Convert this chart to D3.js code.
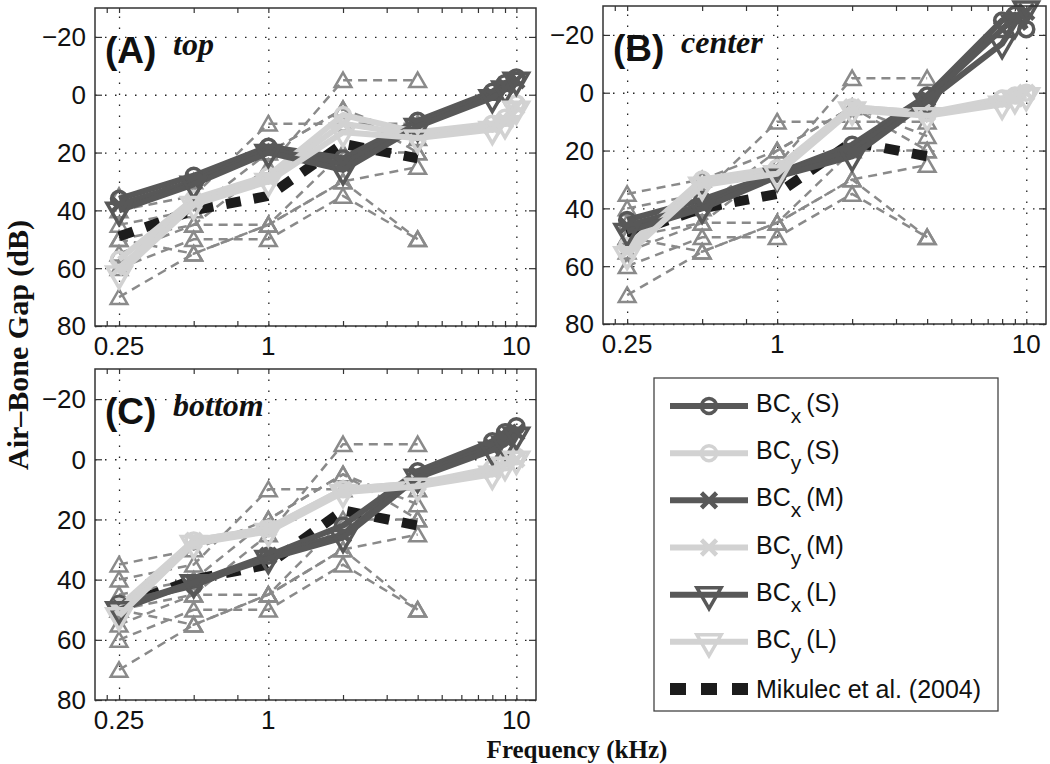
<!DOCTYPE html>
<html>
<head>
<meta charset="utf-8">
<script src="https://cdn.jsdelivr.net/npm/d3@7"></script>
<style>
  body { margin: 0; background: #fff; }
  svg { display: block; }
  .tick-label { font-family: "Liberation Sans", Arial, sans-serif; font-size: 26px; fill: #111; }
</style>
</head>
<body>
<div id="chart"></div>
<script>
// frequencies (kHz)
const FREQ = [0.25, 0.5, 1, 2, 4, 8, 9, 10];
const MIK_FREQ = [0.25, 0.5, 1, 2, 4];

// Mikulec et al. (2004) individual ears, same in every panel
const mikEars = [
  [70, 55, 45, 30, 25],
  [60, 50, 50, 35, 50],
  [55, 45, 45, 30, 50],
  [50, 45, 25, -5, -5],
  [45, 40, 20, 5, 20],
  [40, 35, 10, 10, 10],
  [35, 30, 20, 5, 15],
  [50, 55, 45, 20, 20],
];
const mikMean = [49, 40, 35, 17, 22];

// panel A: top
const A_xS = [36, 28, 18, 22, 9, -1, -4, -6];
const A_yS = [57, 36, 28, 7, 13, 10, 8, 3];
const A_xM = [38, 30, 19, 24, 10, 0, -3, -5];
const A_yM = [60, 37, 29, 10, 14, 11, 9, 4];
const A_xL = [40, 31, 20, 26, 11, 1, -2, -5];
const A_yL = [62, 38, 30, 13, 15, 12, 10, 5];

// panel B: center
const B_xS = [44, 37, 28, 18, 1, -25, -27, -22];
const B_yS = [53, 30, 26, 5, 7, 2, 1, 0];
const B_xM = [46, 39, 28, 20, 2, -22, -26, -28];
const B_yM = [55, 31, 27, 5, 7, 3, 2, 0];
const B_xL = [48, 40, 29, 22, 3, -17, -24, -29];
const B_yL = [56, 32, 28, 6, 8, 4, 2, 1];

// panel C: bottom
const C_xS = [48, 42, 32, 22, 4, -6, -9, -11];
const C_yS = [49, 27, 23, 10, 8, 3, 1, -1];
const C_xM = [49, 41, 32, 25, 5, -4, -7, -9];
const C_yM = [50, 27, 23, 10, 8, 4, 1, 0];
const C_xL = [50, 41, 33, 26, 6, -3, -5, -8];
const C_yL = [52, 28, 24, 11, 9, 5, 2, 0];

const X_MAJOR = [0.25, 1, 10];
const X_MINOR = [0.223, 0.5, 0.75, 2, 3, 4, 5, 6, 7, 8, 9];
const Y_TICKS = [-20, 0, 20, 40, 60, 80];

const DARK = "#585858", LIGHT = "#d2d2d2", TRI = "#8a8a8a", MIK = "#1c1c1c";

const seriesDefs = [
  { key: "xS", color: DARK, marker: "circle", sub: "x", size: "S" },
  { key: "yS", color: LIGHT, marker: "circle", sub: "y", size: "S" },
  { key: "xM", color: DARK, marker: "times", sub: "x", size: "M" },
  { key: "yM", color: LIGHT, marker: "times", sub: "y", size: "M" },
  { key: "xL", color: DARK, marker: "tri", sub: "x", size: "L" },
  { key: "yL", color: LIGHT, marker: "tri", sub: "y", size: "L" },
];

const panels = [
  { id: "(A)", name: "top", x0: 95, x1: 536, y0: 8, y1: 326,
    data: { xS: A_xS, yS: A_yS, xM: A_xM, yM: A_yM, xL: A_xL, yL: A_yL } },
  { id: "(B)", name: "center", x0: 603, x1: 1046, y0: 6, y1: 324,
    data: { xS: B_xS, yS: B_yS, xM: B_xM, yM: B_yM, xL: B_xL, yL: B_yL } },
  { id: "(C)", name: "bottom", x0: 95, x1: 536, y0: 369, y1: 700,
    data: { xS: C_xS, yS: C_yS, xM: C_xM, yM: C_yM, xL: C_xL, yL: C_yL } },
];

const svg = d3.select("#chart").append("svg").attr("width", 1050).attr("height", 764);

function drawMarker(g, type, color, x, y) {
  if (type === "circle") {
    g.append("circle").attr("cx", x).attr("cy", y).attr("r", 7.5)
      .attr("fill", "none").attr("stroke", color).attr("stroke-width", 3.5);
  } else if (type === "times") {
    g.append("path").attr("d", d3.symbol(d3.symbolTimes, 150)())
      .attr("transform", `translate(${x},${y})`)
      .attr("fill", "none").attr("stroke", color).attr("stroke-width", 4.5);
  } else if (type === "tri") {
    g.append("path").attr("d", d3.symbol(d3.symbolTriangle2, 420)())
      .attr("transform", `translate(${x},${y}) rotate(180)`)
      .attr("fill", "none").attr("stroke", color).attr("stroke-width", 3.5)
      .attr("stroke-linejoin", "miter");
  } else if (type === "triUp") {
    g.append("path").attr("d", d3.symbol(d3.symbolTriangle2, 200)())
      .attr("transform", `translate(${x},${y + 2})`)
      .attr("fill", "none").attr("stroke", color).attr("stroke-width", 2.5);
  }
}

panels.forEach((p) => {
  const x = d3.scaleLog().domain([0.2, 12]).range([p.x0, p.x1]);
  const y = d3.scaleLinear().domain([-30, 80]).range([p.y0, p.y1]);
  const g = svg.append("g");
  const w = p.x1 - p.x0, h = p.y1 - p.y0;

  // dotted grid
  g.append("g").attr("transform", `translate(0,${p.y1})`)
    .call(d3.axisBottom(x).tickValues(X_MAJOR).tickSize(-h).tickFormat(""))
    .call((s) => s.select(".domain").remove())
    .selectAll("line").attr("stroke", "#222").attr("stroke-width", 1.3).attr("stroke-dasharray", "1.5,9.5");
  g.append("g").attr("transform", `translate(${p.x0},0)`)
    .call(d3.axisLeft(y).tickValues(Y_TICKS).tickSize(-w).tickFormat(""))
    .call((s) => s.select(".domain").remove())
    .selectAll("line").attr("stroke", "#222").attr("stroke-width", 1.3).attr("stroke-dasharray", "1.5,8.5");

  // inward ticks on all four sides
  const tickAll = X_MAJOR.concat(X_MINOR);
  [[d3.axisBottom, p.y1], [d3.axisTop, p.y0]].forEach(([ax, ty]) => {
    g.append("g").attr("transform", `translate(0,${ty})`)
      .call(ax(x).tickValues(tickAll).tickSize(-5).tickFormat(""))
      .call((s) => s.select(".domain").remove())
      .selectAll("line").attr("stroke", "#333").attr("stroke-width", 1.2);
  });
  [[d3.axisLeft, p.x0], [d3.axisRight, p.x1]].forEach(([ax, tx]) => {
    g.append("g").attr("transform", `translate(${tx},0)`)
      .call(ax(y).tickValues(Y_TICKS).tickSize(-7).tickFormat(""))
      .call((s) => s.select(".domain").remove())
      .selectAll("line").attr("stroke", "#333").attr("stroke-width", 1.2);
  });

  // tick labels
  g.selectAll(".ylab").data(Y_TICKS).join("text").attr("class", "tick-label")
    .attr("x", p.x0 - 9).attr("y", (d) => y(d)).attr("dy", "0.36em")
    .attr("text-anchor", "end").text((d) => (d < 0 ? "\u2212" + Math.abs(d) : d));
  g.selectAll(".xlab").data(X_MAJOR).join("text").attr("class", "tick-label")
    .attr("x", (d) => x(d)).attr("y", p.y1 + 29)
    .attr("text-anchor", "middle").text((d) => d);

  const line = d3.line().x((d) => x(d[0])).y((d) => y(d[1]));

  // individual ears (dashed gray, open triangles)
  mikEars.forEach((ear) => {
    const pts = MIK_FREQ.map((f, i) => [f, ear[i]]);
    g.append("path").attr("d", line(pts)).attr("fill", "none")
      .attr("stroke", TRI).attr("stroke-width", 2.5).attr("stroke-dasharray", "9,6");
    pts.forEach((pt) => drawMarker(g, "triUp", TRI, x(pt[0]), y(pt[1])));
  });

  // Mikulec mean
  g.append("path").attr("d", line(MIK_FREQ.map((f, i) => [f, mikMean[i]])))
    .attr("fill", "none").attr("stroke", MIK).attr("stroke-width", 10)
    .attr("stroke-dasharray", "15,13");

  // BC series
  seriesDefs.forEach((s) => {
    const pts = FREQ.map((f, i) => [f, p.data[s.key][i]]);
    g.append("path").attr("d", line(pts)).attr("fill", "none")
      .attr("stroke", s.color).attr("stroke-width", 6).attr("stroke-linejoin", "round");
    pts.forEach((pt) => drawMarker(g, s.marker, s.color, x(pt[0]), y(pt[1])));
  });

  // frame
  g.append("rect").attr("x", p.x0).attr("y", p.y0).attr("width", w).attr("height", h)
    .attr("fill", "none").attr("stroke", "#333").attr("stroke-width", 1.5);

  // panel labels
  g.append("text").attr("x", p.x0 + 10).attr("y", p.y0 + 55)
    .style("font-family", "Liberation Sans, Arial, sans-serif").style("font-weight", "bold")
    .style("font-size", "37px").attr("fill", "#111").text(p.id);
  g.append("text").attr("x", p.x0 + 78).attr("y", p.y0 + 47)
    .style("font-family", "Liberation Serif, Times New Roman, serif").style("font-weight", "bold")
    .style("font-style", "italic").style("font-size", "32px").attr("fill", "#111").text(p.name);
});

// axis titles
svg.append("text").attr("transform", "translate(28,345) rotate(-90)")
  .attr("text-anchor", "middle")
  .style("font-family", "Liberation Serif, Times New Roman, serif").style("font-weight", "bold")
  .style("font-size", "30px").attr("fill", "#111").text("Air\u2013Bone Gap (dB)");
svg.append("text").attr("x", 577).attr("y", 758).attr("text-anchor", "middle")
  .style("font-family", "Liberation Serif, Times New Roman, serif").style("font-weight", "bold")
  .style("font-size", "25px").attr("fill", "#111").text("Frequency (kHz)");

// legend
const leg = svg.append("g");
leg.append("rect").attr("x", 654).attr("y", 378).attr("width", 344).attr("height", 333)
  .attr("fill", "#fff").attr("stroke", "#444").attr("stroke-width", 1.3);
const legY = d3.scalePoint().domain(d3.range(7)).range([406, 689]);
seriesDefs.forEach((s, i) => {
  const ly = legY(i);
  leg.append("line").attr("x1", 670).attr("x2", 748).attr("y1", ly).attr("y2", ly)
    .attr("stroke", s.color).attr("stroke-width", 6);
  drawMarker(leg, s.marker, s.color, 709, ly);
  const t = leg.append("text").attr("x", 756).attr("y", ly + 6)
    .style("font-family", "Liberation Sans, Arial, sans-serif").style("font-size", "25px").attr("fill", "#111");
  t.append("tspan").text("BC");
  t.append("tspan").attr("dy", 11).style("font-size", "21px").text(s.sub);
  t.append("tspan").attr("dy", -11).text(`\u2009(${s.size})`);
});
leg.append("line").attr("x1", 670).attr("x2", 748).attr("y1", legY(6)).attr("y2", legY(6))
  .attr("stroke", MIK).attr("stroke-width", 12).attr("stroke-dasharray", "16,15");
leg.append("text").attr("x", 756).attr("y", legY(6) + 9)
  .style("font-family", "Liberation Sans, Arial, sans-serif").style("font-size", "25px")
  .attr("fill", "#111").text("Mikulec et al. (2004)");
</script>
</body>
</html>
